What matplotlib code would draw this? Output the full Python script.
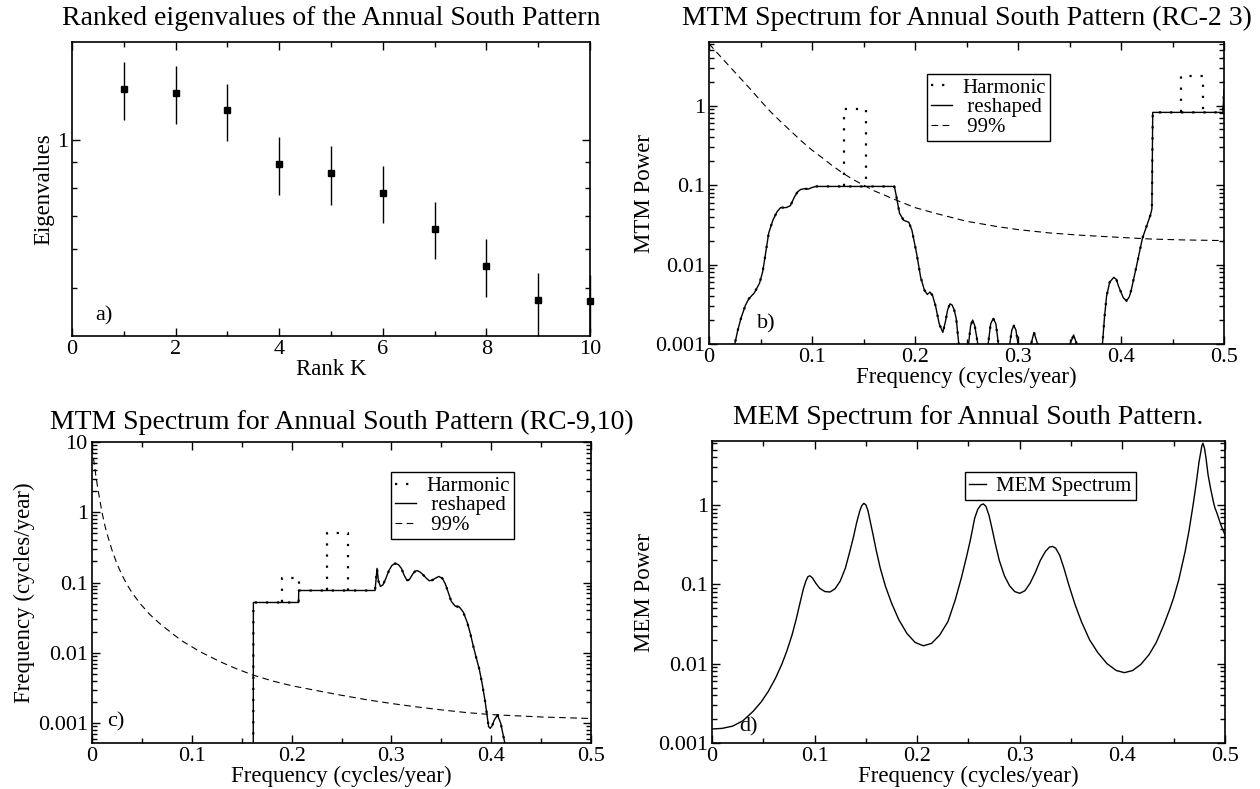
import matplotlib
matplotlib.use('Agg')
import matplotlib.pyplot as plt
from matplotlib.ticker import FixedLocator, FuncFormatter, MultipleLocator, LogLocator, NullFormatter

plt.rcParams['font.family'] = ['Liberation Serif', 'DejaVu Serif']

# ---------------- data ----------------
# a) ranked eigenvalues
rank_k = [1, 2, 3, 4, 5, 6, 7, 8, 9, 10]
eigenvalues = [1.269, 1.243, 1.148, 0.892, 0.855, 0.782, 0.660, 0.555, 0.474, 0.470]
eig_err = [0.170, 0.168, 0.152, 0.120, 0.117, 0.104, 0.088, 0.074, 0.064, 0.063]

# b) MTM spectrum RC-2 3
b_freq = [0.020, 0.025, 0.028, 0.031, 0.0355, 0.0386, 0.044, 0.049, 0.052, 0.054, 0.058,
          0.062, 0.066, 0.0695, 0.075, 0.079, 0.083, 0.086, 0.089, 0.093, 0.0965, 0.100,
          0.104, 0.180, 0.182, 0.185, 0.189, 0.194, 0.197, 0.2015, 0.2054, 0.209, 0.212,
          0.2145, 0.217, 0.220, 0.2235, 0.227, 0.2295, 0.2317, 0.234, 0.236, 0.238, 0.240,
          0.2425, 0.2465, 0.252, 0.254, 0.256, 0.258, 0.261, 0.266, 0.271, 0.2735, 0.276,
          0.2785, 0.281, 0.2865, 0.292, 0.294, 0.296, 0.298, 0.300, 0.306, 0.3127, 0.3155,
          0.319, 0.335, 0.3506, 0.354, 0.357, 0.370, 0.382, 0.384, 0.386, 0.389, 0.393,
          0.3955, 0.3977, 0.4023, 0.4054, 0.4080, 0.410, 0.415, 0.4208, 0.4247, 0.4286,
          0.4300, 0.4308, 0.4990, 0.5000]
b_reshaped = [0.0003, 0.001, 0.0015, 0.0021, 0.0031, 0.0037, 0.0044, 0.0058, 0.0080, 0.0115, 0.025,
              0.036, 0.046, 0.052, 0.052, 0.055, 0.071, 0.082, 0.088, 0.090, 0.089, 0.093,
              0.096, 0.096, 0.071, 0.044, 0.036, 0.034, 0.027, 0.0139, 0.0070, 0.0048, 0.0042,
              0.0045, 0.0041, 0.0030, 0.0018, 0.0014, 0.0019, 0.0027, 0.0032, 0.0031, 0.0027, 0.0021,
              0.001, 0.0002, 0.001, 0.0017, 0.0020, 0.0017, 0.001, 0.0002, 0.001, 0.0018, 0.0021,
              0.0018, 0.001, 0.0002, 0.001, 0.0015, 0.0017, 0.0015, 0.001, 0.0002, 0.001, 0.0014,
              0.001, 0.0002, 0.001, 0.0013, 0.001, 0.0002, 0.001, 0.0022, 0.0040, 0.0060, 0.0069,
              0.0065, 0.0053, 0.0038, 0.0035, 0.0039, 0.0048, 0.0095, 0.0214, 0.030, 0.042,
              0.050, 0.82, 0.82, 1.6]
b_harm_start = [0.131, 0.4587]
b_harm_end = [0.1525, 0.4795]
b_harm_base = [0.096, 0.82]
b_harm_top = [0.91, 2.33]
b_sig_freq = [0.0, 0.01, 0.02, 0.03, 0.04, 0.05, 0.06, 0.07, 0.08, 0.09, 0.10, 0.11, 0.12,
              0.13, 0.14, 0.15, 0.16, 0.18, 0.20, 0.22, 0.25, 0.28, 0.30, 0.33, 0.36, 0.40,
              0.43, 0.46, 0.50]
b_sig99 = [6.0, 4.3, 3.1, 2.24, 1.62, 1.15, 0.83, 0.62, 0.47, 0.355, 0.275, 0.22, 0.174,
           0.141, 0.117, 0.100, 0.085, 0.066, 0.052, 0.044, 0.035, 0.030, 0.0275, 0.025,
           0.0234, 0.0219, 0.0209, 0.0204, 0.020]

# c) MTM spectrum RC-9,10
c_freq = [0.1615, 0.1617, 0.207, 0.2071, 0.2836, 0.2846, 0.2856, 0.2870, 0.289, 0.2916,
          0.2945, 0.2977, 0.3005, 0.3037, 0.307, 0.310, 0.313, 0.3155, 0.3178, 0.3218,
          0.3240, 0.326, 0.329, 0.332, 0.335, 0.338, 0.341, 0.344, 0.3475, 0.351, 0.354,
          0.357, 0.360, 0.364, 0.368, 0.372, 0.376, 0.379, 0.382, 0.385, 0.388, 0.391,
          0.394, 0.3974, 0.399, 0.401, 0.403, 0.4063, 0.4095, 0.4135, 0.418]
c_reshaped = [1e-5, 0.052, 0.052, 0.077, 0.077, 0.110, 0.159, 0.105, 0.088, 0.093,
              0.115, 0.150, 0.175, 0.187, 0.180, 0.159, 0.125, 0.108, 0.109, 0.135,
              0.145, 0.148, 0.140, 0.128, 0.115, 0.106, 0.108, 0.115, 0.122, 0.115, 0.096,
              0.072, 0.054, 0.046, 0.045, 0.038, 0.027, 0.019, 0.0125, 0.0085, 0.0059, 0.0036,
              0.0020, 0.00089, 0.00084, 0.00092, 0.0011, 0.0013, 0.0010, 0.00053, 0.0002]
c_harm_start = [0.190, 0.235]
c_harm_end = [0.207, 0.2566]
c_harm_base0 = [0.052, 0.077]
c_harm_base1 = [0.077, 0.077]
c_harm_top = [0.115, 0.51]
c_sig_freq = [0.0, 0.002, 0.004, 0.006, 0.008, 0.010, 0.012, 0.0141, 0.017, 0.020,
              0.025, 0.030, 0.035, 0.040, 0.0483, 0.058, 0.068, 0.080, 0.090, 0.1086,
              0.129, 0.145, 0.1617, 0.180, 0.200, 0.225, 0.249, 0.275, 0.2997, 0.325,
              0.350, 0.375, 0.400, 0.450, 0.500]
c_sig99 = [8.5, 5.2, 3.2, 2.1, 1.45, 1.0, 0.74, 0.55, 0.40, 0.29,
           0.185, 0.128, 0.094, 0.072, 0.050, 0.035, 0.026, 0.019, 0.0148, 0.0103,
           0.0074, 0.0059, 0.0048, 0.0040, 0.0034, 0.0029, 0.0025, 0.00215, 0.00190, 0.00170,
           0.00154, 0.00141, 0.00132, 0.00122, 0.00116]

# d) MEM spectrum
d_freq = [0.000, 0.010, 0.020, 0.030, 0.040, 0.048, 0.055, 0.062, 0.068, 0.073,
          0.078, 0.082, 0.086, 0.089, 0.0915, 0.0935, 0.0955, 0.098, 0.101, 0.105,
          0.110, 0.115, 0.120, 0.125, 0.130, 0.134, 0.138, 0.141, 0.144, 0.146,
          0.148, 0.150, 0.152, 0.154, 0.157, 0.160, 0.164, 0.169, 0.175, 0.182,
          0.190, 0.198, 0.206, 0.214, 0.222, 0.230, 0.237, 0.243, 0.248, 0.252,
          0.256, 0.259, 0.262, 0.2645, 0.267, 0.270, 0.273, 0.276, 0.280, 0.285,
          0.290, 0.295, 0.300, 0.305, 0.310, 0.315, 0.320, 0.325, 0.329, 0.332,
          0.335, 0.339, 0.343, 0.348, 0.354, 0.360, 0.368, 0.376, 0.385, 0.394,
          0.402, 0.410, 0.418, 0.426, 0.433, 0.440, 0.446, 0.450, 0.455, 0.4611,
          0.465, 0.4689, 0.472, 0.4747, 0.4775, 0.4785, 0.480, 0.4815, 0.4835, 0.486,
          0.489, 0.4903, 0.492, 0.496, 0.500]
d_mem = [0.00150, 0.00153, 0.00163, 0.00190, 0.0025, 0.0033, 0.0045, 0.0066, 0.0098, 0.0145,
         0.023, 0.036, 0.060, 0.087, 0.110, 0.125, 0.128, 0.120, 0.104, 0.089,
         0.081, 0.080, 0.088, 0.110, 0.160, 0.25, 0.40, 0.60, 0.84, 0.98,
         1.05, 1.00, 0.85, 0.64, 0.42, 0.27, 0.16, 0.095, 0.058, 0.036,
         0.024, 0.0185, 0.0168, 0.0180, 0.0230, 0.034, 0.063, 0.12, 0.22, 0.37,
         0.68, 0.88, 1.0, 1.03, 0.96, 0.74, 0.50, 0.33, 0.20, 0.128,
         0.096, 0.081, 0.077, 0.083, 0.103, 0.14, 0.20, 0.26, 0.295, 0.30,
         0.285, 0.23, 0.16, 0.096, 0.055, 0.034, 0.020, 0.0138, 0.0100, 0.0082,
         0.0077, 0.0082, 0.0098, 0.0130, 0.0185, 0.030, 0.048, 0.068, 0.115, 0.257,
         0.48, 1.0, 1.9, 3.5, 5.6, 6.0, 5.2, 3.9, 2.4, 1.6,
         1.05, 0.91, 0.80, 0.56, 0.42]

# ---------------- styling helpers ----------------
TICK_FS = 16
LABEL_FS = 16.5
TITLE_FS = 20
LEG_FS = 15
fmt = FuncFormatter(lambda v, p: '%g' % v)


def style_axes(ax):
    ax.tick_params(which='both', direction='in', top=True, right=True,
                   labelsize=TICK_FS, width=1.0, pad=3)
    ax.tick_params(which='major', length=6)
    ax.tick_params(which='minor', length=3.5)
    for s in ax.spines.values():
        s.set_linewidth(1.2)


def log_y(ax):
    ax.set_yscale('log')
    ax.yaxis.set_major_locator(LogLocator(base=10, numticks=20))
    ax.yaxis.set_minor_locator(LogLocator(base=10, subs=range(2, 10), numticks=20))
    ax.yaxis.set_major_formatter(fmt)
    ax.yaxis.set_minor_formatter(NullFormatter())


def freq_x(ax):
    ax.set_xlim(0, 0.5)
    ax.xaxis.set_major_locator(MultipleLocator(0.1))
    ax.xaxis.set_minor_locator(MultipleLocator(0.05))
    ax.xaxis.set_major_formatter(fmt)
    ax.set_xlabel('Frequency (cycles/year)', fontsize=LABEL_FS, labelpad=0)


def add_legend(ax, handles, labels, anchor, hl=1.0):
    leg = ax.legend(handles, labels, loc='upper left', bbox_to_anchor=anchor,
                    fontsize=LEG_FS, frameon=True, fancybox=False, edgecolor='black',
                    framealpha=1, borderaxespad=0, borderpad=0.2, labelspacing=0.0,
                    handlelength=hl, handletextpad=0.5)
    leg.get_frame().set_linewidth(1.0)
    return leg


DOT = (0, (1, 4))
DASH = (0, (6, 4))

fig = plt.figure(figsize=(12.6, 7.89), dpi=100)

# ---------------- a ----------------
axa = fig.add_axes([0.05714, 0.57414, 0.41111, 0.37262])
axa.errorbar(rank_k, eigenvalues, yerr=eig_err, fmt='s', color='black', ms=5,
             elinewidth=1.0, capsize=0, clip_on=False, zorder=3)
axa.set_yscale('log')
axa.set_xlim(0, 10)
axa.set_ylim(0.4, 1.58)
axa.yaxis.set_major_locator(FixedLocator([1.0]))
axa.yaxis.set_minor_locator(FixedLocator([0.5, 0.6, 0.7, 0.8, 0.9]))
axa.yaxis.set_major_formatter(fmt)
axa.yaxis.set_minor_formatter(NullFormatter())
axa.xaxis.set_major_locator(MultipleLocator(2))
axa.xaxis.set_minor_locator(MultipleLocator(1))
axa.xaxis.set_major_formatter(fmt)
style_axes(axa)
axa.set_xlabel('Rank K', fontsize=LABEL_FS, labelpad=0)
axa.set_ylabel('Eigenvalues', fontsize=LABEL_FS, labelpad=2)
axa.set_title('Ranked eigenvalues of the Annual South Pattern', fontsize=TITLE_FS, pad=12)
axa.text(0.044, 0.052, 'a)', transform=axa.transAxes, fontsize=TICK_FS)

order = [1, 0, 2]

# ---------------- b ----------------
axb = fig.add_axes([0.56270, 0.56400, 0.40873, 0.38276])
axb.plot(b_freq, b_reshaped, color='black', lw=1.0, label=' reshaped', zorder=3)
axb.plot(b_freq, b_reshaped, color='black', lw=1.6, ls=DOT, label='Harmonic', zorder=4)
for f0, f1, base, top in zip(b_harm_start, b_harm_end, b_harm_base, b_harm_top):
    axb.plot([f0, f0, f1, f1], [base, top, top, base], color='black', lw=1.6, ls=DOT, zorder=4)
axb.plot(b_sig_freq, b_sig99, color='black', lw=0.8, ls=DASH, label=' 99%', zorder=2)
log_y(axb)
axb.set_ylim(0.001, 6.3)
freq_x(axb)
style_axes(axb)
axb.set_ylabel('MTM Power', fontsize=LABEL_FS, labelpad=0)
axb.set_title('MTM Spectrum for Annual South Pattern (RC-2 3)', fontsize=TITLE_FS, pad=12)
axb.text(0.093, 0.053, 'b)', transform=axb.transAxes, fontsize=TICK_FS)
h, l = axb.get_legend_handles_labels()
add_legend(axb, [h[i] for i in order], [l[i] for i in order], (0.423, 0.894))

# ---------------- c ----------------
axc = fig.add_axes([0.07302, 0.05830, 0.39603, 0.38150])
axc.plot(c_freq, c_reshaped, color='black', lw=1.0, label=' reshaped', zorder=3)
axc.plot(c_freq, c_reshaped, color='black', lw=1.6, ls=DOT, label='Harmonic', zorder=4)
for f0, f1, b0, b1, top in zip(c_harm_start, c_harm_end, c_harm_base0, c_harm_base1, c_harm_top):
    axc.plot([f0, f0, f1, f1], [b0, top, top, b1], color='black', lw=1.6, ls=DOT, zorder=4)
axc.plot(c_sig_freq, c_sig99, color='black', lw=0.8, ls=DASH, label=' 99%', zorder=2)
log_y(axc)
axc.set_ylim(0.00052, 10)
freq_x(axc)
style_axes(axc)
axc.set_ylabel('Frequency (cycles/year)', fontsize=LABEL_FS, labelpad=2)
axc.set_title('MTM Spectrum for Annual South Pattern (RC-9,10)', fontsize=TITLE_FS, pad=9)
axc.text(0.031, 0.056, 'c)', transform=axc.transAxes, fontsize=TICK_FS)
h, l = axc.get_legend_handles_labels()
add_legend(axc, [h[i] for i in order], [l[i] for i in order], (0.599, 0.900))

# ---------------- d ----------------
axd = fig.add_axes([0.56508, 0.05830, 0.40714, 0.38276])
axd.plot(d_freq, d_mem, color='black', lw=1.0, label='MEM Spectrum')
log_y(axd)
axd.set_ylim(0.001, 6.4)
freq_x(axd)
style_axes(axd)
axd.set_ylabel('MEM Power', fontsize=LABEL_FS, labelpad=2)
axd.set_title('MEM Spectrum for Annual South Pattern.', fontsize=TITLE_FS, pad=12)
axd.text(0.053, 0.037, 'd)', transform=axd.transAxes, fontsize=TICK_FS)
h, l = axd.get_legend_handles_labels()
add_legend(axd, h, l, (0.493, 0.897), hl=0.8)

fig.savefig('out.png', dpi=100)
